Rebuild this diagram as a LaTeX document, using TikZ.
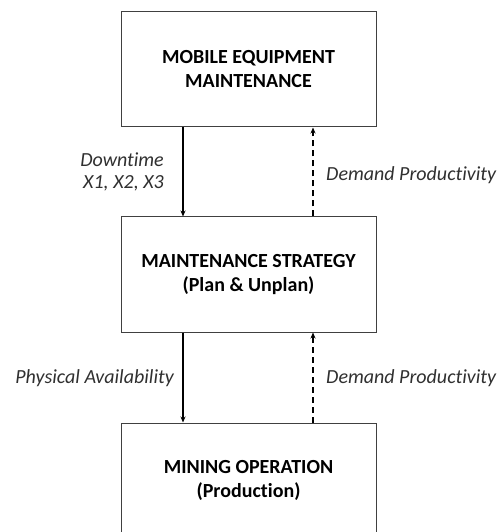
\documentclass[tikz,border=0pt]{standalone}
\usepackage{fontspec}
\setmainfont{Carlito}[Ligatures={NoCommon}]
\usetikzlibrary{arrows.meta}
\definecolor{boxgray}{HTML}{404040}
\definecolor{labelgray}{HTML}{303030}
\tikzset{
  box/.style={draw=boxgray, line width=1bp, minimum width=255bp, minimum height=115bp,
    inner sep=0pt, align=center, font=\bfseries\fontsize{20bp}{24bp}\selectfont},
  lbl/.style={text=labelgray, inner sep=0pt, font=\itshape\fontsize{20bp}{22bp}\selectfont},
  flow/.style={line width=1.5bp, -{Stealth[length=6bp,width=5bp]}},
  back/.style={line width=1.5bp, dash pattern=on 6bp off 4bp, -{Stealth[length=6bp,width=5bp]}}
}
\begin{document}
\begin{tikzpicture}[x=1bp,y=-1bp]
\useasboundingbox (0,0) rectangle (501,532);
\clip (0,0) rectangle (501,532);
\fill[white] (0,0) rectangle (501,532);
\node[box] (top) at (248.5,69.5) {MOBILE EQUIPMENT\\MAINTENANCE};
\node[box] (mid) at (248.5,274.5) {MAINTENANCE STRATEGY\\(Plan \& Unplan)};
\node[box] (bot) at (248.5,480.5) {MINING OPERATION\\(Production)};
\coordinate (cx) at (183,0);
\coordinate (dx) at (313,0);
\draw[flow] (top.south -| cx) -- (mid.north -| cx);
\draw[back] (mid.north -| dx) -- (top.south -| dx);
\draw[flow] (mid.south -| cx) -- (bot.north -| cx);
\draw[back] (bot.north -| dx) -- (mid.south -| dx);
\node[lbl, anchor=east, align=right] (l1) at (164,172) {Downtime\\X1, X2, X3};
\node[lbl, anchor=west] (l2) at (326,175) {Demand Productivity};
\node[lbl, anchor=east] (l3) at (174,378) {Physical Availability};
\node[lbl, anchor=west] (l4) at (326,378) {Demand Productivity};
\end{tikzpicture}
\end{document}
